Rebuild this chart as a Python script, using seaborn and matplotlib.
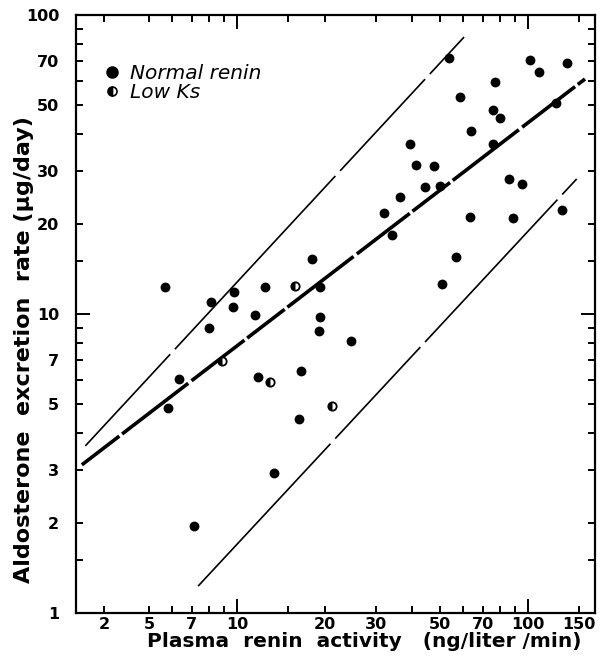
import numpy as np
import pandas as pd
import matplotlib
matplotlib.use("Agg")
import matplotlib.pyplot as plt
from matplotlib.markers import MarkerStyle
from matplotlib.lines import Line2D
import seaborn as sns

# ---------------- data ----------------
normal_renin = [5.66, 8.12, 9.77, 9.71, 11.53, 12.48, 18.15, 19.36, 8.01, 6.34,
                5.79, 11.84, 16.55, 16.37, 13.40, 7.13, 19.36, 19.06, 24.74, 32.1,
                34.2, 36.3, 39.3, 41.1, 44.3, 47.5, 49.8, 53.5, 50.5, 56.6,
                58.4, 63.6, 63.2, 76.0, 76.8, 80.1, 76.0, 86.3, 95.4, 89.0,
                101.6, 109.1, 124.8, 130.6, 135.8]
normal_aldo = [12.29, 10.97, 11.82, 10.58, 9.92, 12.27, 15.24, 12.29, 8.98, 6.06,
               4.84, 6.16, 6.43, 4.44, 2.93, 1.95, 9.75, 8.77, 8.14, 21.8,
               18.4, 24.6, 37.0, 31.5, 26.5, 31.3, 26.7, 72.0, 12.6, 15.5,
               53.3, 40.9, 21.1, 48.1, 59.6, 45.1, 37.0, 28.2, 27.3, 21.0,
               70.7, 64.5, 50.7, 22.2, 69.3]
lowks_renin = [15.86, 8.88, 12.98, 21.16]
lowks_aldo = [12.43, 6.96, 5.93, 4.91]

reg_x, reg_y = [2.93, 157.0], [3.13, 61.1]          # regression line
upper_x, upper_y = [3.01, 60.3], [3.62, 84.4]       # upper limit
lower_x, lower_y = [7.35, 147.0], [1.23, 28.3]      # lower limit

x_major = [10, 100]
x_minor = [3.5, 5, 6, 7, 8, 9, 15, 20, 30, 40, 50, 60, 70, 80, 90, 150]
x_minor_labels = ["2", "5", "", "7", "", "", "", "20", "30", "", "50", "", "70", "", "", "150"]
y_major = [1, 10, 100]
y_major_labels = ["1", "10", "100"]
y_minor = [1.5, 2, 3, 4, 5, 6, 7, 8, 9, 15, 20, 30, 40, 50, 60, 70, 80, 90]
y_minor_labels = ["", "2", "3", "", "5", "", "7", "", "", "", "20", "30", "", "50", "", "70", "", ""]

# ---------------- plotting ----------------
sns.set_style("ticks")
plt.rcParams["font.family"] = ["DejaVu Sans"]
plt.rcParams["lines.scale_dashes"] = False
for key in ["text.color", "axes.labelcolor", "xtick.color", "ytick.color",
            "axes.edgecolor"]:
    plt.rcParams[key] = "black"

fig = plt.figure(figsize=(6.07, 6.59), dpi=100)
ax = fig.add_axes([0.1252, 0.0698, 0.855, 0.9074])
ax.set_xscale("log")
ax.set_yscale("log")
ax.set_xlim(2.797, 169.9)
ax.set_ylim(1, 100)

df_n = pd.DataFrame({"renin": normal_renin, "aldo": normal_aldo})
df_l = pd.DataFrame({"renin": lowks_renin, "aldo": lowks_aldo})

# lines
sns.lineplot(x=reg_x, y=reg_y, ax=ax, color="black", linewidth=2.6)
ax.lines[-1].set_linestyle((0, (34, 2.5, 60, 3, 48, 2.5)))
sns.lineplot(x=upper_x, y=upper_y, ax=ax, color="black", linewidth=1.2)
ax.lines[-1].set_linestyle((0, (90, 5, 170, 5)))
sns.lineplot(x=lower_x, y=lower_y, ax=ax, color="black", linewidth=1.2)
ax.lines[-1].set_linestyle((0, (140, 5, 90, 5)))

# points
sns.scatterplot(data=df_n, x="renin", y="aldo", ax=ax, color="black",
                s=50, edgecolor="black", linewidth=0, zorder=3)
sns.scatterplot(data=df_l, x="renin", y="aldo", ax=ax, color="white",
                s=36, edgecolor="black", linewidth=1.3, zorder=3)
sns.scatterplot(data=df_l, x="renin", y="aldo", ax=ax, color="black",
                marker=MarkerStyle("o", fillstyle="left"), s=36,
                edgecolor="black", linewidth=0, zorder=4)

# axes styling
for sp in ax.spines.values():
    sp.set_linewidth(1.6)
    sp.set_color("black")
    sp.set_visible(True)

ax.set_xticks(x_major, labels=["10", "100"])
ax.set_xticks(x_minor, labels=x_minor_labels, minor=True)
ax.set_yticks(y_major, labels=y_major_labels)
ax.set_yticks(y_minor, labels=y_minor_labels, minor=True)
ax.tick_params(which="both", direction="in", top=True, right=True,
               color="black", labelcolor="black", width=1.4, labelsize=11.5)
ax.tick_params(axis="x", which="both", pad=3)
ax.tick_params(axis="y", which="both", pad=12)
ax.tick_params(which="major", length=10)
ax.tick_params(which="minor", length=5)
for lab in ax.get_xticklabels(which="both") + ax.get_yticklabels(which="both"):
    lab.set_fontweight("bold")

ax.set_xlabel("Plasma  renin  activity   (ng/liter /min)", fontsize=14.5,
              fontweight="bold", color="black")
ax.set_ylabel("Aldosterone  excretion  rate (μg/day)", fontsize=16,
              fontweight="bold", color="black")
ax.xaxis.set_label_coords(0.555, -0.032)
ax.yaxis.set_label_coords(-0.08, 0.441)

# legend
h1 = Line2D([], [], marker="o", ls="none", color="black", markersize=8)
h2 = Line2D([], [], marker="o", ls="none", markerfacecolor="black",
            markerfacecoloralt="white", markeredgecolor="black",
            fillstyle="left", markersize=6.5, markeredgewidth=1.2)
leg = ax.legend([h1, h2], ["Normal renin", "Low Ks"], loc="upper left",
                bbox_to_anchor=(0.05, 0.918), frameon=False,
                prop={"style": "italic", "size": 14.5}, handletextpad=0.4,
                labelspacing=0.0, handlelength=1.0, borderpad=0, borderaxespad=0)
for t in leg.get_texts():
    t.set_color("black")

fig.savefig("out.png", dpi=100)
